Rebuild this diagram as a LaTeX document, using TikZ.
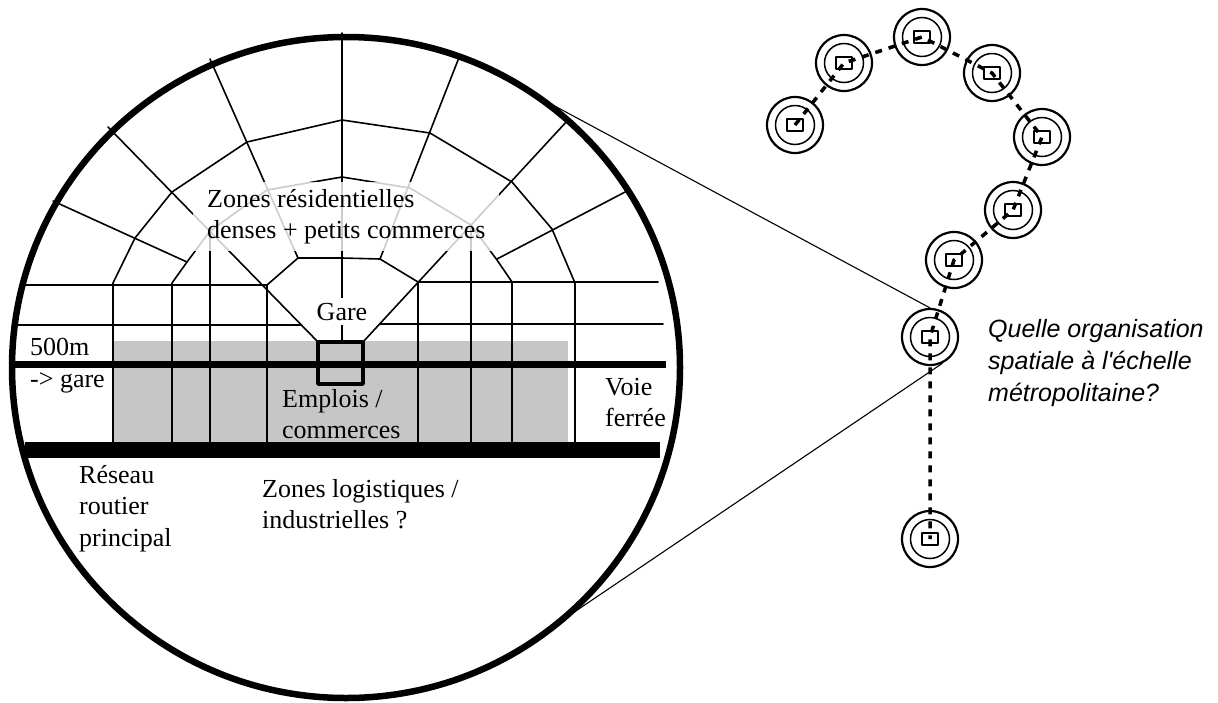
\documentclass[tikz,border=0pt]{standalone}
\usepackage{fontspec}
\setmainfont{Liberation Serif}
\newfontfamily\questfont{Liberation Sans}
\usetikzlibrary{calc}

\begin{document}
\begin{tikzpicture}[x=1pt,y=-1pt,line join=round,line cap=round,
  web/.style={line width=1.6pt},
  lbl/.style={font=\fontsize{26}{31.5}\selectfont,align=left,anchor=base west,inner sep=0pt},
  hub/.style={circle,draw,line width=2.2pt,minimum size=56pt,inner sep=0pt,
    path picture={\draw[line width=1.5pt] (path picture bounding box.center) circle (19.5pt);
      \draw[line width=2pt] ($(path picture bounding box.center)+(-8,-6)$) rectangle ($(path picture bounding box.center)+(8,6)$);}},
  link/.style={line width=3.5pt,dash pattern=on 7pt off 7pt,line cap=butt}]
\useasboundingbox (0,0) rectangle (1218,702);
% zone d'emplois autour de la gare
\fill[gray!45] (112,341) rectangle (568,442);
\coordinate (G1) at (318,342);
\coordinate (G2) at (363,342);
\coordinate (G3) at (363,384);
% rayons
\draw[web] (108,127)--(G1) (568,120)--(G2) (342,33)--(342,342);
\draw[web] (210,59)--(298,258) (460,55)--(380,259);
\draw[web] (53,201)--(187,262) (627,191)--(497,259);
% anneaux
\draw[web] (113,442)--(113,283)--(135,238)--(172,192)--(247,142)--(342,120)--(430,133)--(512,182)--(552,229)--(575,283)--(575,442);
\draw[web] (172,442)--(172,283)--(187,262)--(210,231)--(267,190)--(342,177)--(410,188)--(471,225)--(497,260)--(512,282)--(512,442);
\draw[web] (267,442)--(267,285)--(298,258)--(342,258)--(380,259)--(418,282)--(418,442);
\draw[web] (210,231)--(210,442) (471,225)--(471,442);
\draw[web] (24,285)--(267,285) (418,282)--(658,282);
\draw[web] (16,325)--(301,325) (380,324)--(663,324);
% voie ferree, route, gare
\draw[line width=7.5pt,line cap=butt] (9,364.5)--(666,364.5);
\draw[line width=15.5pt,line cap=butt] (25,450)--(660,450);
\draw[line width=3.5pt] (G1) rectangle (G3);
\node[lbl,fill=white,fill opacity=0.8,text opacity=1,inner xsep=14pt,inner ysep=7pt] (res) at (193,238.5) {Zones résidentielles\\denses + petits commerces};
\node[lbl,anchor=base,fill=white,inner xsep=8pt,inner ysep=5pt] (gare) at (342,320) {Gare};
\foreach \n/\x/\y/\t in {km/30/355/500m,dir/30/387/{-> gare},emp/282/438.5/{Emplois /\\commerces},voie/605/426.5/{Voie\\ferrée},route/79/546/{Réseau\\routier\\principal},logi/262/528.5/{Zones logistiques /\\industrielles ?}}
  \node[lbl] (\n) at (\x,\y) {\t};
\draw[line width=6.5pt] (346,367.5) ellipse [x radius=334, y radius=330.5];
% echelle metropolitaine
\foreach \i/\x/\y in {1/795/125,2/844/63,3/922/37,4/992/73,5/1042/137,6/1013/210,7/954/260,8/930/337,9/930/539}
  \node[hub] (c\i) at (\x,\y) {};
\draw[link] (c1.center)--(c2.center)--(c3.center)--(c4.center)--(c5.center)--(c6.center)--(c7.center)--(c8.center)--(c9.center);
\coordinate (zt) at (538,97);
\coordinate (zb) at (561,621);
\draw[line width=1.1pt] (zt)--(c8.north) (zb)--(c8.-65);
\node[font=\questfont\itshape\fontsize{25}{32}\selectfont,align=left,anchor=base west,inner sep=0pt] (quest) at (988,401) {Quelle organisation\\spatiale à l'échelle\\métropolitaine?};
\end{tikzpicture}
\end{document}
